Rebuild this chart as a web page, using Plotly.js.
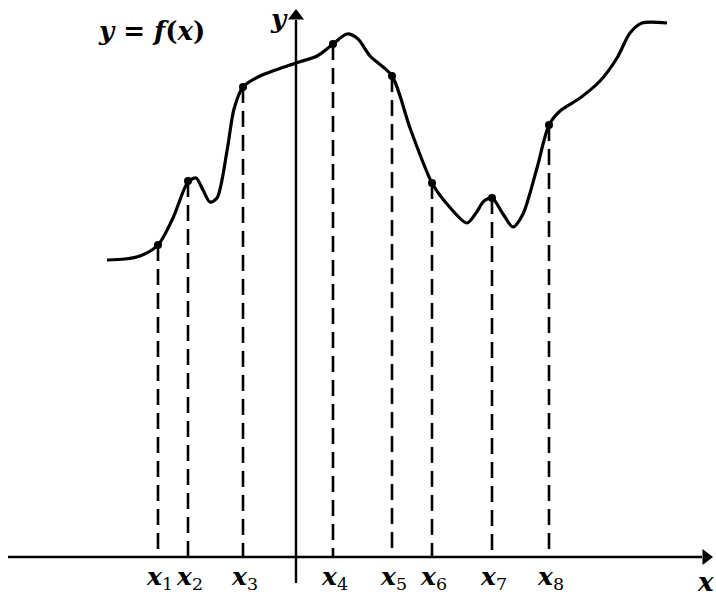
<!DOCTYPE html>
<html><head><meta charset="utf-8">
<script src="https://cdn.plot.ly/plotly-3.0.1.min.js"></script>
<style>html,body{margin:0;padding:0;background:#fff}#c{width:716px;height:598px}</style>
</head><body><div id="c"></div>
<script>
// curve of y = f(x) (arbitrary units, origin at the axes' crossing)
const curveX = [-189,-171,-156,-138,-123,-108,-100,-93,-86,-79,-69,-62,-53,-36,0,21,37,51,62,74,96,114,136,151,171,180,188,196,207,217,227,241,253,264,284,304,321,334,346,371];
const curveY = [297,298,301,312,339,375,379,367,355,359,406,448,470,481,494,501,513,523,518,501,481,429,374,353,334,344,356,359,343,330,343,389,432,446,459,476,499,524,534,534];
// marked points x1..x8
const pointLabels = ["1","2","3","4","5","6","7","8"];
const pointX = [-138,-108,-53,37,96,136,196,253];
const pointY = [312,376,470,513,481,374,359,432];

const dashX = [], dashY = [];
pointX.forEach((x,i)=>{dashX.push(x,x,null);dashY.push(pointY[i],0,null);});

const serif = "DejaVu Serif";
const traces = [
  {x:dashX,y:dashY,mode:"lines",line:{color:"#000",width:2.6,dash:"16px,8px"},hoverinfo:"skip"},
  {x:curveX,y:curveY,mode:"lines",line:{color:"#000",width:3.2,shape:"spline",smoothing:0.8},hoverinfo:"skip"},
  {x:pointX,y:pointY,mode:"markers",marker:{color:"#000",size:8},hoverinfo:"skip"},
  // arrowheads of the axes
  {x:[410],y:[0],mode:"markers",marker:{symbol:"triangle-right",size:14,color:"#000"},hoverinfo:"skip"},
  {x:[0],y:[541],mode:"markers",marker:{symbol:"triangle-up",size:14,color:"#000"},hoverinfo:"skip"}
];

const shapes = [
  {type:"line",xref:"x",yref:"y",x0:-288,x1:406,y0:0,y1:0,line:{color:"#000",width:2.6}},
  {type:"line",xref:"x",yref:"y",x0:0,x1:0,y0:-26,y1:537,line:{color:"#000",width:2.4}}
];

const ann = [
  {x:-145,y:526,xref:"x",yref:"y",showarrow:false,text:"<b><i>y</i> = <i>f</i>(<i>x</i>)</b>",font:{family:serif,size:26,color:"#000"}},
  {x:-17,y:538,xref:"x",yref:"y",showarrow:false,text:"<b><i>y</i></b>",font:{family:serif,size:26,color:"#000"}},
  {x:420,y:-25,xref:"x",yref:"y",xanchor:"right",showarrow:false,text:"<b><i>x</i></b>",font:{family:serif,size:26,color:"#000"}}
];
pointX.forEach((x,i)=>{
  ann.push({x:x,y:-21,xref:"x",yref:"y",showarrow:false,xshift:1,
    text:"<b><i>x</i></b><sub>"+pointLabels[i]+"</sub>",font:{family:serif,size:25,color:"#000"}});
});

const ax = {visible:false,showgrid:false,zeroline:false,fixedrange:true};
Plotly.newPlot("c",traces,{
  width:716,height:598,margin:{l:0,r:0,t:0,b:0},
  paper_bgcolor:"#fff",plot_bgcolor:"#fff",showlegend:false,
  xaxis:Object.assign({range:[-296,420]},ax),
  yaxis:Object.assign({range:[-41,557]},ax),
  shapes:shapes,annotations:ann
},{staticPlot:true});
</script></body></html>
